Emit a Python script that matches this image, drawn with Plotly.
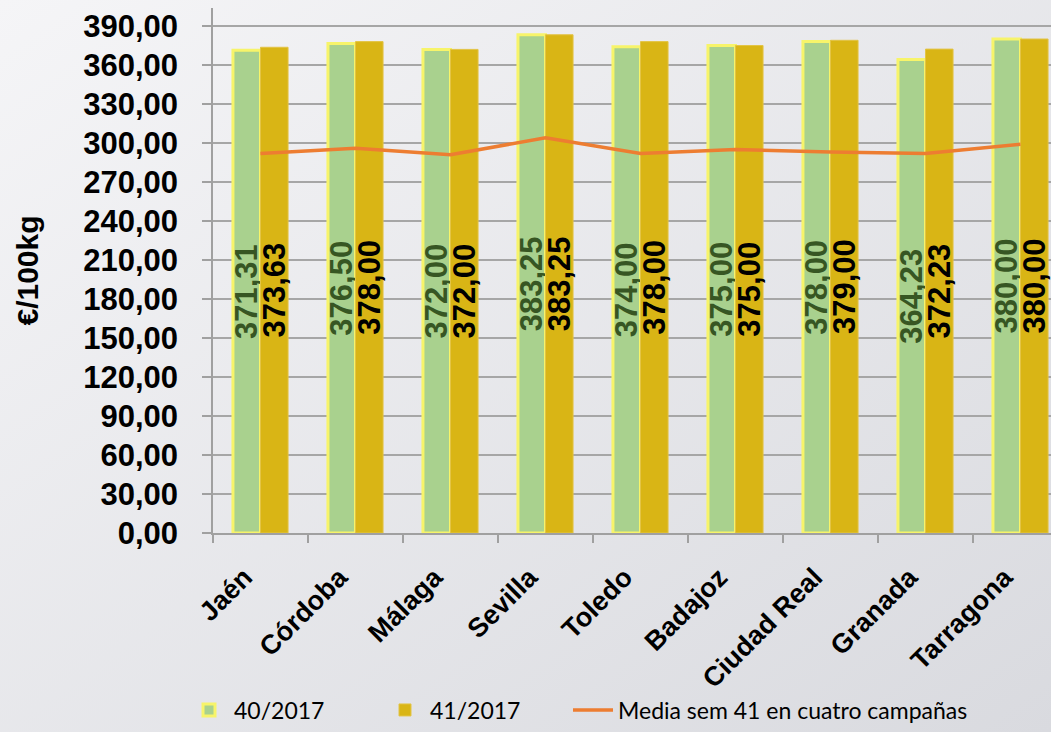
import base64
import plotly.graph_objects as go

categories = ["Jaén", "Córdoba", "Málaga", "Sevilla", "Toledo", "Badajoz",
              "Ciudad Real", "Granada", "Tarragona"]
semana_40 = [371.31, 376.50, 372.00, 383.25, 374.00, 375.00, 378.00, 364.23, 380.00]
semana_41 = [373.63, 378.00, 372.00, 383.25, 378.00, 375.00, 379.00, 372.23, 380.00]
media_41 = [292, 296, 291, 304, 292, 295, 293, 292, 299]
series_names = ["40/2017", "41/2017", "Media sem 41 en cuatro campañas"]
y_ticks = list(range(0, 391, 30))


def fmt(v):
    return f"{v:.2f}".replace(".", ",")


W, H = 1051, 732
ML, MR, MT, MB = 213, 0, 8, 199
PW, PH = W - ML - MR, H - MT - MB

svg = (
    f'<svg xmlns="http://www.w3.org/2000/svg" width="{W}" height="{H}">'
    '<defs><linearGradient id="g" x1="0" y1="0" x2="1" y2="1">'
    '<stop offset="0" stop-color="#F5F5F7"/>'
    '<stop offset="1" stop-color="#D9DADF"/>'
    '</linearGradient></defs>'
    f'<rect width="{W}" height="{H}" fill="url(#g)"/></svg>'
)
bg_uri = "data:image/svg+xml;base64," + base64.b64encode(svg.encode()).decode()

label_font = dict(family="Liberation Sans, Arial", size=31, weight="bold")

fig = go.Figure()
fig.add_trace(go.Bar(
    name=series_names[0], x=categories, y=semana_40, legend="legend",
    marker=dict(color="#A9D18E", line=dict(color="#F7F46A", width=3)),
    text=[fmt(v) for v in semana_40], textposition="inside", textangle=-90,
    insidetextanchor="middle", constraintext="none",
    textfont=dict(**label_font, color="#375623"),
))
fig.add_trace(go.Bar(
    name=series_names[1], x=categories, y=semana_41, legend="legend",
    marker=dict(color="#D9B515", line=dict(color="#E3C445", width=1)),
    text=[fmt(v) for v in semana_41], textposition="inside", textangle=-90,
    insidetextanchor="middle", constraintext="none",
    textfont=dict(**label_font, color="#000000"),
))
fig.add_trace(go.Scatter(
    name=series_names[2], x=categories, y=media_41, mode="lines", legend="legend2",
    line=dict(color="#ED7D31", width=3.5),
))

legend_font = dict(family="Lato, Open Sans", size=23, color="#000000")
legend_y = (533 - 731.5) / PH

fig.update_layout(
    width=W, height=H,
    margin=dict(l=ML, r=MR, t=MT, b=MB, pad=0, autoexpand=False),
    paper_bgcolor="#E8E9EC", plot_bgcolor="rgba(0,0,0,0)",
    separators=",.",
    barmode="group", bargap=0.42, bargroupgap=0,
    font=dict(family="Liberation Sans, Arial", color="#000000"),
    images=[dict(source=bg_uri, xref="paper", yref="paper",
                 x=-ML / PW, y=1 + MT / PH, sizex=W / PW, sizey=H / PH,
                 xanchor="left", yanchor="top", sizing="stretch", layer="below")],
    showlegend=True,
    legend=dict(orientation="h", x=(184 - ML) / PW, y=legend_y, xanchor="left", yanchor="bottom",
                font=legend_font, bgcolor="rgba(0,0,0,0)",
                entrywidth=141, entrywidthmode="pixels", itemwidth=40),
    legend2=dict(orientation="h", x=(568 - ML) / PW, y=legend_y, xanchor="left", yanchor="bottom",
                 font=legend_font, bgcolor="rgba(0,0,0,0)", itemwidth=40),
)
fig.update_xaxes(
    type="category", range=[-0.5, -0.5 + PW / 95.0], automargin=False,
    showline=True, linecolor="#A0A0A0", linewidth=1.5,
    ticks="outside", tickson="boundaries", ticklen=8, tickcolor="#A0A0A0", tickwidth=1.5,
    tickangle=-45, ticklabelstandoff=16, ticklabelshift=-16,
    tickfont=dict(family="Liberation Sans, Arial", size=27, color="#000000", weight="bold"),
    showgrid=False, zeroline=False,
)
fig.update_yaxes(
    range=[0, 390 + 18 / 1.3], automargin=False,
    tickvals=y_ticks, tickformat=".2f",
    showline=True, linecolor="#A0A0A0", linewidth=1.5,
    ticks="outside", ticklen=9, tickcolor="#A0A0A0", tickwidth=1.5, ticklabelstandoff=18,
    tickfont=dict(family="Liberation Sans, Arial", size=31, color="#000000", weight="bold"),
    showgrid=True, gridcolor="#A6A6A6", gridwidth=1.5, zeroline=False,
    title=dict(text="€/100kg", standoff=36,
               font=dict(family="Liberation Sans, Arial", size=30, color="#000000", weight="bold")),
)

fig.write_html("out.html", config={"displayModeBar": False},
               post_script="document.body.style.margin='0';document.body.style.overflow='hidden';")
